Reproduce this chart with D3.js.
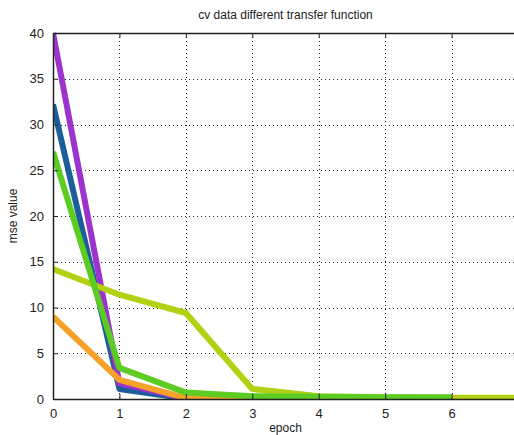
<!DOCTYPE html>
<html>
<head>
<meta charset="utf-8">
<script src="https://cdn.jsdelivr.net/npm/d3@7"></script>
<style>
	body { margin: 0; background: #fff; }
	svg { display: block; font-family: "Liberation Sans", Arial, sans-serif; }
	.grid line { stroke: #222; stroke-dasharray: 1 3; stroke-width: 1; }
	.axis text { font-size: 13px; fill: #222; }
	.axis path, .axis line { stroke: #222; }
</style>
</head>
<body>
<div id="vizHolder"></div>
<script>
var	width = 514,
		height = 435,
		margin = { top: 33, right: -4, bottom: 36, left: 53 };

// epochs and series (mse per epoch)
var epochs = [0, 1, 2, 3, 4, 5, 6, 7];
var xTicks = [0, 1, 2, 3, 4, 5, 6];
var yTicks = [0, 5, 10, 15, 20, 25, 30, 35, 40];

var blueVals   = [32.2, 1.1, 0.05, 0.02, 0.02, 0.02, 0.02, 0.02];
var purpleVals = [40, 1.7, 0.08, 0.03, 0.03, 0.03, 0.03, 0.03];
var orangeVals = [9.0, 2.1, 0.1, 0.05, 0.05, 0.05, 0.05, 0.05];
var yellowVals = [14.2, 11.4, 9.4, 1.1, 0.3, 0.2, 0.15, 0.15];
var greenVals  = [27.0, 3.4, 0.7, 0.3, 0.25, 0.2, 0.2];

var series = [
	{ values: blueVals, color: '#1c5e9c' },
	{ values: purpleVals, color: '#9b33cc' },
	{ values: orangeVals, color: '#f5a12a' },
	{ values: yellowVals, color: '#b3d012' },
	{ values: greenVals, color: '#5ccc22' }
];

var svg = d3.select('#vizHolder')
	.append('svg')
	.attr('width', width)
	.attr('height', height);

var innerW = width - margin.left - margin.right,
		innerH = height - margin.top - margin.bottom;

var xScale = d3.scaleLinear()
	.domain([0, 7])
	.range([0, innerW]);

var yScale = d3.scaleLinear()
	.domain([0, 40])
	.range([innerH, 0]);

var viz = svg.append('g')
	.attr('transform', 'translate(' + margin.left + ',' + margin.top + ')');

// dotted grid
var grid = viz.append('g').attr('class', 'grid');
grid.selectAll('.gx')
	.data(xTicks.slice(1))
	.enter().append('line')
	.attr('x1', function(d) { return Math.round(xScale(d)) + 0.5; })
	.attr('x2', function(d) { return Math.round(xScale(d)) + 0.5; })
	.attr('y1', 0)
	.attr('y2', innerH);
grid.selectAll('.gy')
	.data(yTicks.slice(1, -1))
	.enter().append('line')
	.attr('y1', function(d) { return Math.round(yScale(d)) + 0.5; })
	.attr('y2', function(d) { return Math.round(yScale(d)) + 0.5; })
	.attr('x1', 0)
	.attr('x2', innerW);

// lines
var line = d3.line()
	.x(function(d, i) { return xScale(epochs[i]); })
	.y(function(d) { return yScale(d); });

svg.append('clipPath').attr('id', 'clip')
	.append('rect').attr('x', 0).attr('y', -4).attr('width', innerW).attr('height', innerH + 4);

viz.append('g').attr('clip-path', 'url(#clip)')
	.selectAll('path')
	.data(series)
	.enter().append('path')
	.attr('d', function(d) { return line(d.values); })
	.attr('fill', 'none')
	.attr('stroke', function(d) { return d.color; })
	.attr('stroke-width', 6)
	.attr('stroke-linejoin', 'round');

// axes (ticks pointing inward, matlab style)
viz.append('g')
	.attr('class', 'x axis')
	.attr('transform', 'translate(0,' + innerH + ')')
	.call(d3.axisBottom(xScale).tickValues(xTicks).tickFormat(d3.format('d')).tickSizeInner(-5).tickSizeOuter(0).tickPadding(10));

viz.append('g')
	.attr('class', 'y axis')
	.call(d3.axisLeft(yScale).tickValues(yTicks).tickFormat(d3.format('d')).tickSizeInner(-5).tickSizeOuter(0).tickPadding(9));

viz.append('g')
	.attr('class', 'x axis')
	.call(d3.axisTop(xScale).tickValues(xTicks).tickSizeInner(-5).tickSizeOuter(0).tickFormat(''));

viz.selectAll('.axis .domain').attr('stroke-width', 1.5);

// labels
svg.append('text')
	.attr('x', margin.left + innerW / 2)
	.attr('y', 19)
	.attr('text-anchor', 'middle')
	.attr('font-size', 12)
	.attr('fill', '#222')
	.text('cv data different transfer function');

svg.append('text')
	.attr('x', margin.left + innerW / 2)
	.attr('y', 432)
	.attr('text-anchor', 'middle')
	.attr('font-size', 12)
	.attr('fill', '#222')
	.text('epoch');

svg.append('text')
	.attr('transform', 'translate(17,' + (margin.top + innerH / 2) + ') rotate(-90)')
	.attr('text-anchor', 'middle')
	.attr('font-size', 12)
	.attr('fill', '#222')
	.text('mse value');
</script>
</body>
</html>
